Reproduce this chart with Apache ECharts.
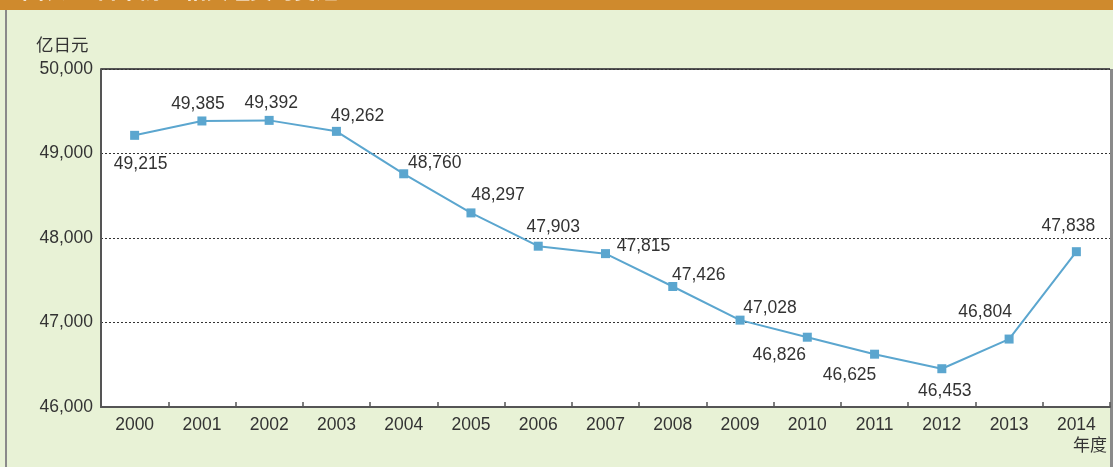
<!DOCTYPE html>
<html><head><meta charset="utf-8">
<script src="https://cdn.jsdelivr.net/npm/echarts@6/dist/echarts.min.js"></script>
<style>html,body{margin:0;padding:0;background:#E8F2D6;}#c{width:1113px;height:467px;}</style>
</head><body><div id="c"></div>
<script>
const years = ['2000','2001','2002','2003','2004','2005','2006','2007','2008','2009','2010','2011','2012','2013','2014'];
const budget = [49215, 49385, 49392, 49262, 48760, 48297, 47903, 47815, 47426, 47028, 46826, 46625, 46453, 46804, 47838];
const yTicks = [46000, 47000, 48000, 49000, 50000];
const labelOffsets = [[6,29],[-4,-17],[2,-17],[21,-15],[31,-11],[27,-18],[15,-19],[38,-7],[26,-11],[30,-12],[-28,18],[-25,21],[3,22],[-24,-27],[-8,-26]];

const chart = echarts.init(document.getElementById('c'), null, {renderer:'canvas'});
const fmt = v => v.toLocaleString('en-US');
const FS = 17.5;
chart.setOption({
  backgroundColor: '#E8F2D6',
  animation: false,
  textStyle: {fontFamily: 'Liberation Sans, Arial, sans-serif'},
  graphic: [
    {type:'rect', left:0, top:0, shape:{width:1113, height:10}, style:{fill:'#CF8A2D'}, z:-1},
    {type:'text', left:22, top:-21, style:{text:'图表 — 日本防卫相关经费的变迁', fill:'#ffffff', font:'bold 22px "Noto Sans CJK SC"'}, z:0},
    {type:'rect', left:5, top:10, shape:{width:2, height:457}, style:{fill:'#8a8a8a'}},
    {type:'rect', left:1110, top:69, shape:{width:3, height:398}, style:{fill:'#8a8a8a'}},
    {type:'rect', left:101, top:68, shape:{width:1009, height:2}, style:{fill:'#555'}},
    {type:'text', left:36, top:36, style:{text:'亿日元', fill:'#333', font:'17.5px "Noto Sans CJK SC"'}}
  ],
  grid: {left:101, right:3, top:69, bottom:60, backgroundColor:'#ffffff', show:true, borderWidth:0},
  xAxis: {
    type:'category', data: years, boundaryGap:true,
    name:'年度', nameLocation:'end', nameGap:0,
    nameTextStyle:{color:'#333', fontSize:17, fontFamily:'Noto Sans CJK SC', align:'right', verticalAlign:'top', padding:[29,3,0,0]},
    axisLine:{lineStyle:{color:'#555', width:2}},
    axisTick:{show:true, inside:true, length:5, lineStyle:{color:'#555', width:1.5}},
    axisLabel:{color:'#333', fontSize:FS, margin:9}
  },
  yAxis: {
    type:'value', min:46000, max:50000, interval:1000,
    axisLine:{show:true, lineStyle:{color:'#555', width:2}},
    axisTick:{show:false},
    axisLabel:{color:'#333', fontSize:FS, margin:8, formatter: v => yTicks.includes(v) ? fmt(v) : ''},
    splitLine:{show:true, lineStyle:{color:'#333', type:[2,2], width:1}}
  },
  series: [{
    type:'line',
    symbol:'rect', symbolSize:9,
    lineStyle:{color:'#5BA6CF', width:2},
    itemStyle:{color:'#5BA6CF'},
    data: budget.map((v,i)=>({value:v, label:{show:true, position:'inside', offset:labelOffsets[i], formatter: p=>fmt(p.value), color:'#333', fontSize:FS}}))
  }]
});
</script></body></html>
